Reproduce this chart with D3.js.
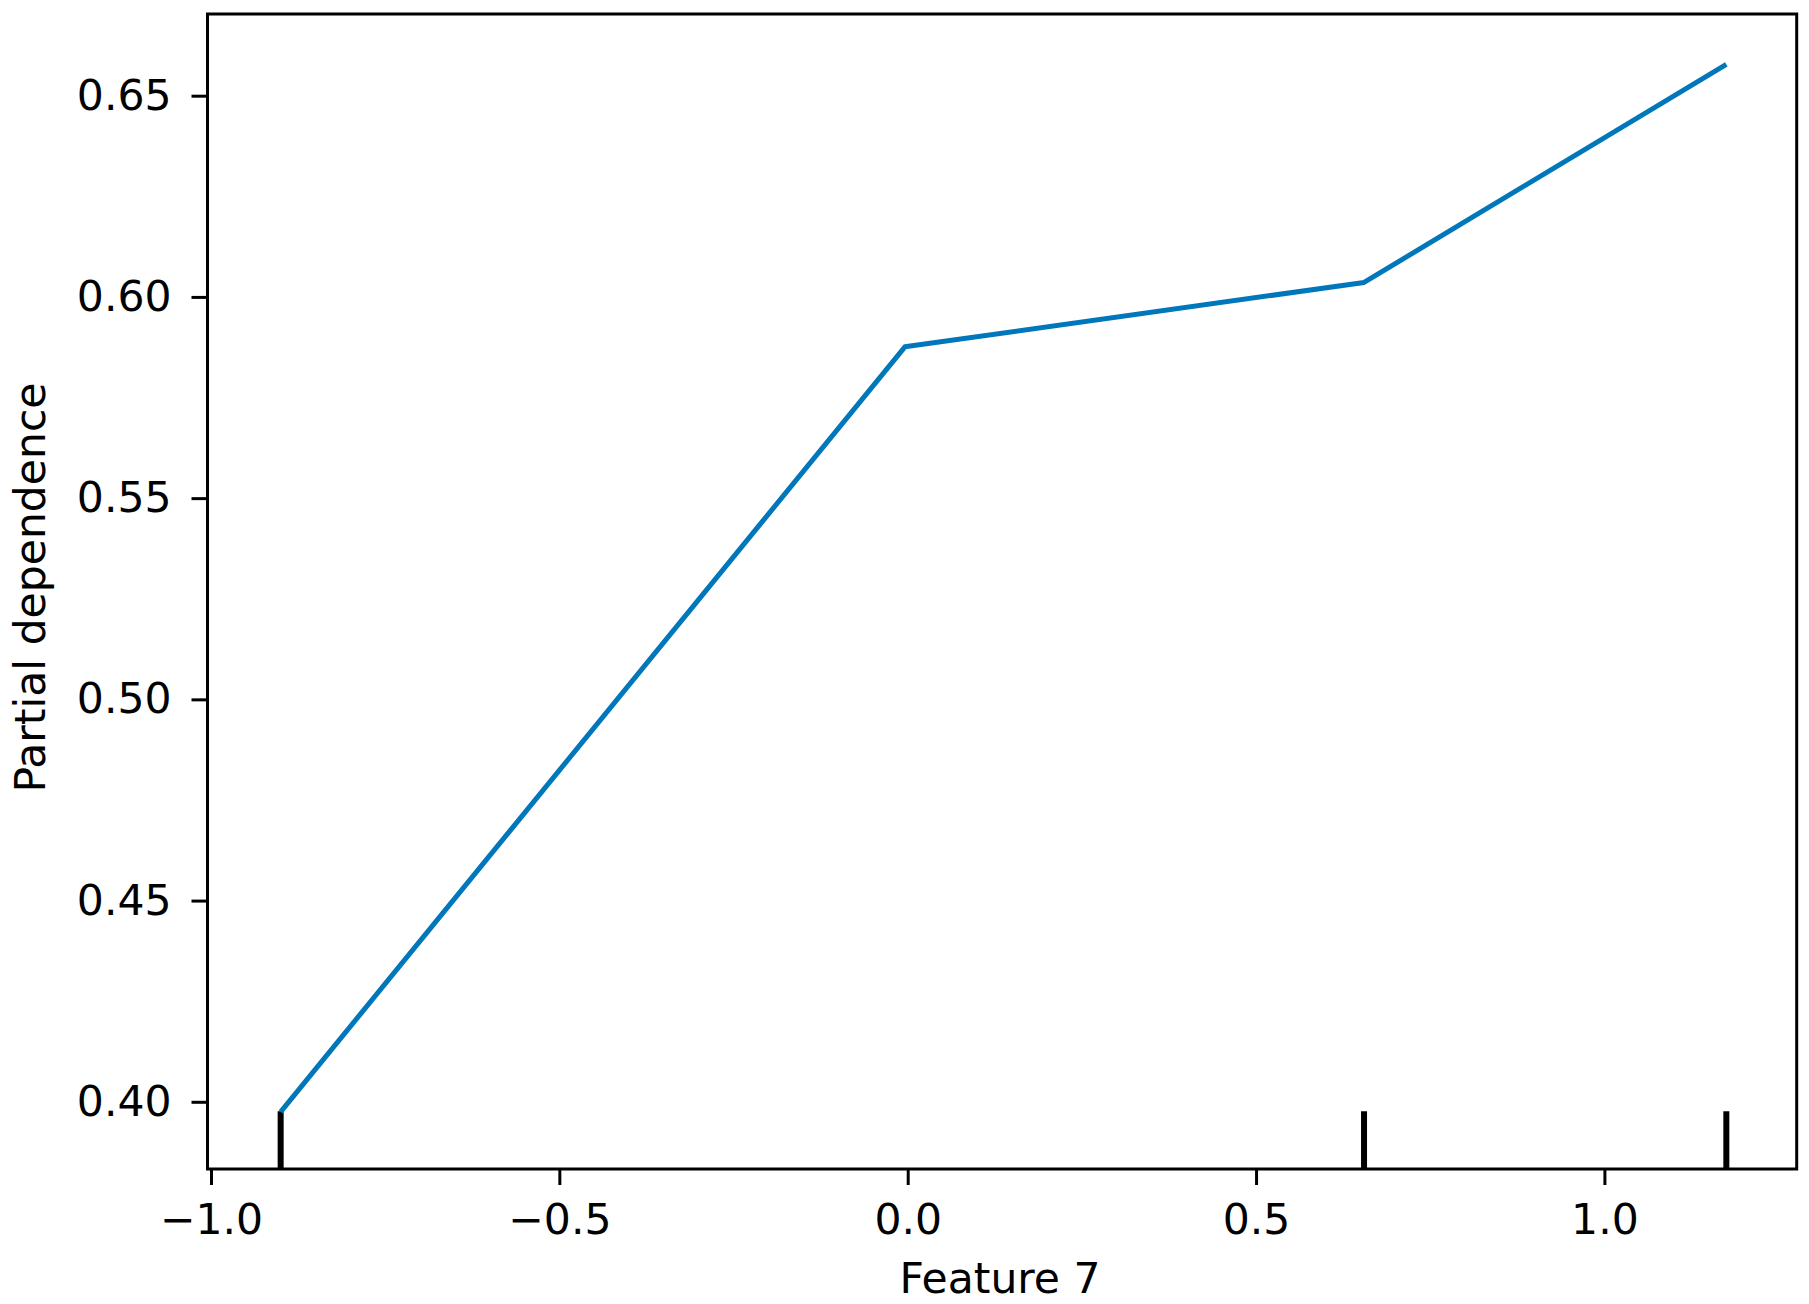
<!DOCTYPE html>
<html>
<head>
<meta charset="utf-8">
<script src="https://cdn.jsdelivr.net/npm/d3@7"></script>
<style>
  body { margin: 0; background: #fff; }
  text { font-family: "DejaVu Sans", sans-serif; fill: #000; }
</style>
</head>
<body>
<div id="chart"></div>
<script>
// Partial dependence values
const gridX = [-0.90, -0.004, 0.655, 1.175];
const pdValues = [0.3975, 0.5876, 0.6036, 0.6578];
const decileX = [-0.90, 0.655, 1.175];
const xTicks = [-1.0, -0.5, 0.0, 0.5, 1.0];
const yTicks = [0.40, 0.45, 0.50, 0.55, 0.60, 0.65];

const W = 1809, H = 1304;
const margin = { top: 14, right: W - 1796.7, bottom: H - 1169, left: 207.5 },
    width = W - margin.left - margin.right,
    height = H - margin.top - margin.bottom;

const svg = d3.select("#chart")
    .append("svg")
    .attr("width", W)
    .attr("height", H)
    .append("g")
    .attr("transform", `translate(${margin.left},${margin.top})`);

const x = d3.scaleLinear().domain([-1.005, 1.276]).range([0, width]);
const y = d3.scaleLinear().domain([0.3833, 0.6703]).range([height, 0]);

const fontSize = 42.5;

// X axis
const xAxis = svg.append("g")
    .attr("transform", `translate(0,${height})`)
    .call(d3.axisBottom(x).tickValues(xTicks).tickFormat(d3.format(".1f"))
        .tickSize(16).tickPadding(19));
xAxis.select(".domain").remove();
xAxis.selectAll(".tick line").attr("stroke", "#000").attr("stroke-width", 3);
xAxis.selectAll("text").attr("font-size", fontSize).attr("font-family", "DejaVu Sans");

// Y axis
const yAxis = svg.append("g")
    .call(d3.axisLeft(y).tickValues(yTicks).tickFormat(d3.format(".2f"))
        .tickSize(16).tickPadding(20));
yAxis.select(".domain").remove();
yAxis.selectAll(".tick line").attr("stroke", "#000").attr("stroke-width", 3);
yAxis.selectAll("text").attr("font-size", fontSize).attr("font-family", "DejaVu Sans");

// Rug of deciles (5% of axes height)
svg.selectAll(".decile")
    .data(decileX)
    .enter().append("line")
    .attr("class", "decile")
    .attr("x1", d => x(d))
    .attr("x2", d => x(d))
    .attr("y1", height)
    .attr("y2", height * 0.95)
    .attr("stroke", "#000")
    .attr("stroke-width", 6);

// Partial dependence line
svg.append("path")
    .datum(gridX.map((d, i) => [d, pdValues[i]]))
    .attr("fill", "none")
    .attr("stroke", "#0077bb")
    .attr("stroke-width", 5)
    .attr("stroke-linejoin", "round")
    .attr("d", d3.line().x(d => x(d[0])).y(d => y(d[1])));

// Frame
svg.append("rect")
    .attr("width", width)
    .attr("height", height)
    .attr("fill", "none")
    .attr("stroke", "#000")
    .attr("stroke-width", 3);

// Axis labels
svg.append("text")
    .attr("x", 1000 - margin.left)
    .attr("y", 1293 - margin.top)
    .attr("text-anchor", "middle")
    .attr("font-size", fontSize)
    .text("Feature 7");

svg.append("text")
    .attr("transform", `translate(${45 - margin.left},${587.5 - margin.top}) rotate(-90)`)
    .attr("text-anchor", "middle")
    .attr("font-size", fontSize)
    .text("Partial dependence");
</script>
</body>
</html>
